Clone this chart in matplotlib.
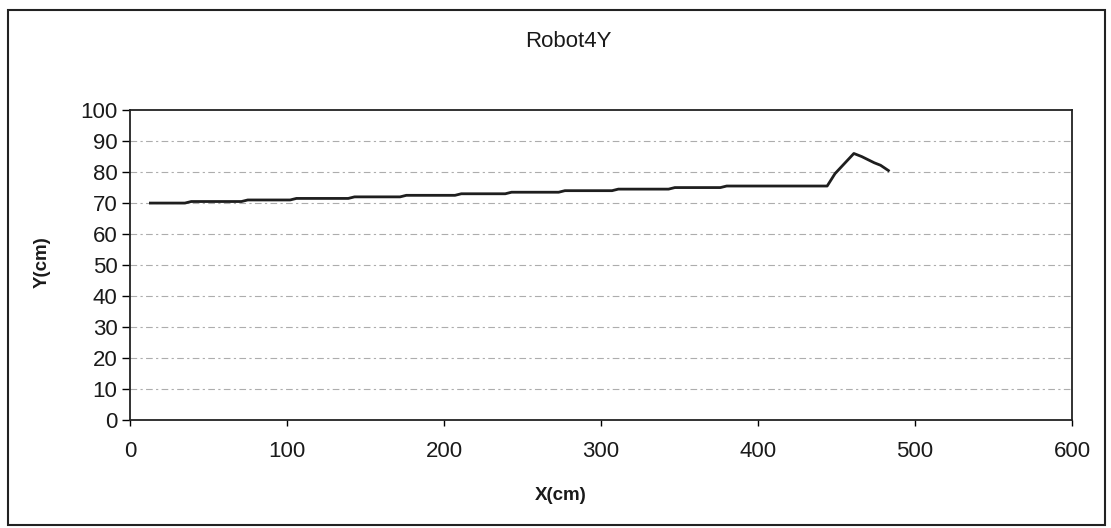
import matplotlib
matplotlib.use("Agg")
import matplotlib.pyplot as plt
from matplotlib.patches import Rectangle

# Robot 4 track: Y position against X position (cm)
x_cm = [13, 35, 39, 71, 75, 102, 106, 139, 143, 172, 176, 207, 211, 239, 243,
        273, 277, 307, 311, 343, 347, 376, 380, 444, 449, 461, 466, 474, 478, 483]
y_cm = [70, 70, 70.5, 70.5, 71, 71, 71.5, 71.5, 72, 72, 72.5, 72.5, 73, 73, 73.5,
        73.5, 74, 74, 74.5, 74.5, 75, 75, 75.5, 75.5, 79.5, 86, 85, 83, 82.2, 80.5]

x_ticks = [0, 100, 200, 300, 400, 500, 600]
y_ticks = [0, 10, 20, 30, 40, 50, 60, 70, 80, 90, 100]

plt.rcParams['font.family'] = ['Liberation Sans', 'DejaVu Sans']

fig = plt.figure(figsize=(11.11, 5.28), dpi=100)
fig.patch.set_facecolor('white')

# outer chart frame
fig.patches.append(Rectangle((8 / 1111, 3 / 528), 1097 / 1111, 515 / 528,
                             transform=fig.transFigure, fill=False,
                             edgecolor='#222222', linewidth=1.5))

ax = fig.add_axes([0.117, 0.2045, 0.848, 0.587])
ax.plot(x_cm, y_cm, color='#1e1e1e', linewidth=2.0)

ax.set_xlim(0, 600)
ax.set_ylim(0, 100)
ax.set_xticks(x_ticks)
ax.set_yticks(y_ticks)
ax.tick_params(axis='y', labelsize=16, length=6, width=1, direction='out', pad=3,
               labelcolor='#1a1a1a')
ax.tick_params(axis='x', labelsize=16, length=4, width=1, direction='out', pad=11,
               labelcolor='#1a1a1a')

for y in y_ticks[1:-1]:
    ax.axhline(y, color='#adadad', linewidth=0.8, linestyle=(0, (6, 3, 2, 3)), zorder=0)

for s in ax.spines.values():
    s.set_color('#222222')
    s.set_linewidth(1.3)

fig.text(0.512, 0.922, 'Robot4Y', ha='center', va='center', fontsize=16,
         color='#1a1a1a')
fig.text(0.505, 0.062, 'X(cm)', ha='center', va='center', fontsize=13.5,
         fontweight='bold', color='#1a1a1a')
fig.text(0.038, 0.503, 'Y(cm)', ha='center', va='center', fontsize=13.5,
         rotation=90, fontweight='bold', color='#1a1a1a')

fig.savefig('out.png', dpi=100)
